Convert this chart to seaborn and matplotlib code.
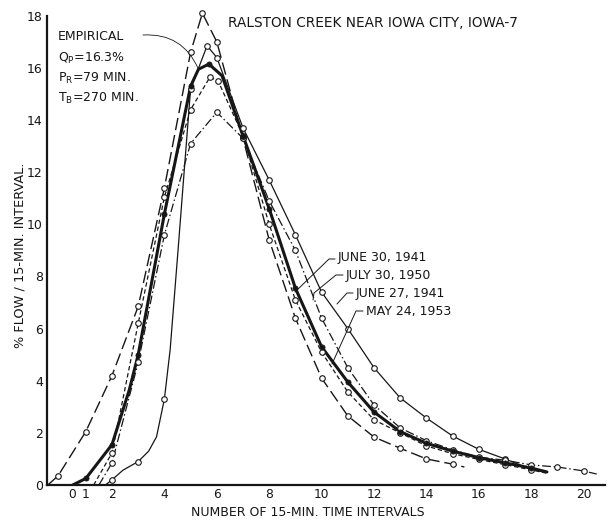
import numpy as np
import pandas as pd
import matplotlib
matplotlib.use("Agg")
import matplotlib.pyplot as plt
from matplotlib.lines import Line2D
import seaborn as sns

sns.set_style("white")
plt.rcParams['font.family'] = ['DejaVu Sans']

# ---- data (x = number of 15-min intervals, y = % flow) ----
# May 24, 1953 (long dash)
a_x = [-0.45, -0.06, 1, 2, 3, 4, 5, 5.45, 6, 7, 8, 9, 10, 11, 12, 13, 14, 15, 15.45]
a_y = [0, 0.35, 2.05, 4.2, 6.85, 11.4, 16.6, 18.1, 17.0, 13.3, 9.4, 6.4, 4.1, 2.65, 1.84, 1.41, 1.0, 0.8, 0.69]
# June 27, 1941 (thin solid)
b_x = [1.75, 2, 2.42, 3, 3.4, 3.7, 4, 4.22, 4.52, 5, 5.63, 6, 7, 8, 9, 10, 11, 12, 13, 14, 15, 16, 17, 18, 18.5]
b_y = [0, 0.2, 0.57, 0.9, 1.3, 1.85, 3.3, 5.2, 9.0, 15.2, 16.85, 16.4, 13.7, 11.7, 9.6, 7.4, 6.0, 4.5, 3.34, 2.57, 1.88, 1.37, 1.0, 0.6, 0.5]
# July 30, 1950 (dash-dot)
c_x = [1.5, 2, 3, 4, 5, 6, 7, 8, 9, 10, 11, 12, 13, 14, 15, 16, 17, 18, 19, 20, 20.5]
c_y = [0, 0.85, 4.7, 9.6, 13.1, 14.3, 13.3, 10.9, 9.0, 6.4, 4.5, 3.07, 2.19, 1.7, 1.35, 1.07, 0.95, 0.77, 0.69, 0.54, 0.42]
# June 30, 1941 (short dash)
d_x = [1.3, 2, 3, 4, 5, 5.74, 6.05, 7, 8, 9, 10, 11, 12, 13, 14, 15, 16, 17, 18, 18.6]
d_y = [0, 1.23, 6.2, 11.05, 14.4, 15.65, 15.5, 13.4, 10.0, 7.1, 5.1, 3.57, 2.5, 2.0, 1.5, 1.2, 0.98, 0.78, 0.58, 0.45]
# Empirical (bold solid)
e_x = [0.5, 1, 2, 2.66, 3, 4, 5, 5.3, 5.7, 6.2, 7, 8, 9, 10, 11, 12, 13, 14, 15, 16, 17, 18, 18.6]
e_y = [0, 0.25, 1.55, 3.65, 5.0, 10.4, 15.3, 15.95, 16.15, 15.7, 13.4, 10.6, 7.55, 5.3, 3.95, 2.8, 2.05, 1.6, 1.3, 1.05, 0.85, 0.65, 0.5]

y_ticks = [0, 2, 4, 6, 8, 10, 12, 14, 16, 18]
x_tick_pos = [0.47, 1, 2, 4, 6, 8, 10, 12, 14, 16, 18, 20]
x_tick_lab = ["0", "1", "2", "4", "6", "8", "10", "12", "14", "16", "18", "20"]

title = "RALSTON CREEK NEAR IOWA CITY, IOWA-7"
x_label = "NUMBER OF 15-MIN. TIME INTERVALS"
y_label = "% FLOW / 15-MIN. INTERVAL."
emp_lines = ["EMPIRICAL", r"Q$_{\mathregular{P}}$=16.3%", r"P$_{\mathregular{R}}$=79 MIN.", r"T$_{\mathregular{B}}$=270 MIN."]
event_labels = ["JUNE 30, 1941", "JULY 30, 1950", "JUNE 27, 1941", "MAY 24, 1953"]

INK = "#161616"
W, H = 609, 520
fig = plt.figure(figsize=(W / 100, H / 100), dpi=100)
ax = fig.add_axes([47 / W, 35 / H, (605 - 47) / W, (485 - 8) / H])

styles = [
    (a_x, a_y, 1.0, (9, 3.5), "open"),
    (b_x, b_y, 0.9, None, "open"),
    (c_x, c_y, 0.9, (7, 2.2, 1.2, 2.2), "open"),
    (d_x, d_y, 0.9, (3.5, 2.2), "open"),
    (e_x, e_y, 2.2, None, "filled"),
]

for xs, ys, lw, dash, mk in styles:
    df = pd.DataFrame({"x": xs, "y": ys})
    sns.lineplot(data=df, x="x", y="y", ax=ax, color=INK, lw=lw,
                 estimator=None, sort=False, legend=False)
    ln = ax.lines[-1]
    if dash is not None:
        ln.set_dashes(dash)
    ln.set_solid_joinstyle("round")
    ymax = max(ys)
    sel = [(abs(x - round(x)) < 0.08 or y == ymax) and y > 0 and i != len(xs) - 1
           and not (mk == "open" and 3.2 < x < 3.8)
           for i, (x, y) in enumerate(zip(xs, ys))]
    mdf = df[sel]
    if mk == "open":
        sns.scatterplot(data=mdf, x="x", y="y", ax=ax, s=16, color="white",
                        edgecolor=INK, linewidth=0.8, zorder=5, legend=False)
    else:
        sns.scatterplot(data=mdf, x="x", y="y", ax=ax, s=14, color=INK,
                        edgecolor=INK, linewidth=0.5, zorder=5, legend=False)

ax.set_xlim(-0.481, 20.817)
ax.set_ylim(0, 18.30)
for s in ["top", "right"]:
    ax.spines[s].set_visible(False)
ax.spines["left"].set_bounds(0, 18)
for s in ["left", "bottom"]:
    ax.spines[s].set_linewidth(1.6)
    ax.spines[s].set_color(INK)
ax.set_yticks(y_ticks)
ax.set_yticklabels([str(v) for v in y_ticks])
ax.set_xticks(x_tick_pos)
ax.set_xticklabels(x_tick_lab)
ax.tick_params(axis="y", direction="in", length=8, width=1.4, labelsize=9, pad=3, colors=INK)
ax.tick_params(axis="x", direction="in", length=7.5, width=1.4, labelsize=8.8, pad=2.5, colors=INK)
ax.set_xlabel("")
ax.set_ylabel("")
ax.grid(False)

def fx(px):
    return px / W

def fy(py):
    return 1 - py / H

fig.text(fx(228), fy(23), title, fontsize=9.8, va="center", ha="left", color=INK)
fig.text(fx(308), fy(512), x_label, fontsize=9.0, va="center", ha="center", color=INK)
fig.text(fx(20), fy(255), y_label, fontsize=9.3, va="center", ha="center", rotation=90, color=INK)

emp_y = [37, 58, 78, 98]
for t, py in zip(emp_lines, emp_y):
    fig.text(fx(58), fy(py), t, fontsize=9, va="center", ha="left", color=INK)

# leader from "EMPIRICAL" to the empirical curve
ax.annotate("", xy=(5.3, 15.95), xycoords="data",
            xytext=(143, H - 35), textcoords="figure pixels",
            arrowprops=dict(arrowstyle="-", color=INK, lw=0.6,
                            connectionstyle="arc3,rad=-0.35", shrinkA=0, shrinkB=0))

ev_pos = [(338, 258), (346, 275), (356, 293), (366, 311)]
for t, (px, py) in zip(event_labels, ev_pos):
    fig.text(fx(px), fy(py), t, fontsize=9, va="center", ha="left", color=INK)

leaders = [
    [(335, 259), (329, 259), (295, 292)],
    [(343, 275), (336, 275), (314, 293), (313, 300)],
    [(353, 293), (347, 293), (337, 304)],
    [(363, 311), (356, 311), (332, 364)],
]
for pts in leaders:
    xs = [fx(p[0]) for p in pts]
    ys = [fy(p[1]) for p in pts]
    fig.add_artist(Line2D(xs, ys, transform=fig.transFigure, color=INK, lw=0.7))

fig.savefig("out.png", dpi=100, facecolor="white")
